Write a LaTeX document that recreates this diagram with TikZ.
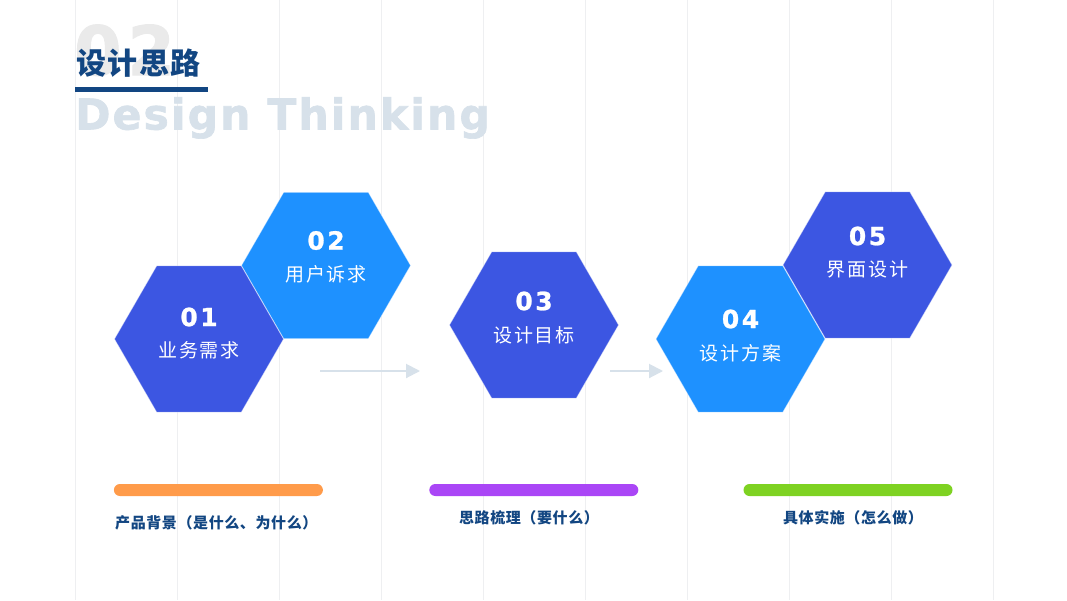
\documentclass[tikz,border=0pt]{standalone}
\usepackage{fontspec}
\setmainfont{Liberation Sans}
\newfontfamily\cjk{Noto Sans CJK SC}
\newfontfamily\cjktitle[LetterSpace=5]{Noto Sans CJK SC}
\newfontfamily\cjkwide[LetterSpace=10]{Noto Sans CJK SC}
\newfontfamily\cjkcap[LetterSpace=4]{Noto Sans CJK SC}
\newfontfamily\numfont[LetterSpace=10, FakeBold=1, UprightFont={DejaVu Sans Bold}]{DejaVu Sans}
\newfontfamily\engfont[LetterSpace=5, FakeBold=1.5, UprightFont={DejaVu Sans Bold}]{DejaVu Sans}
\newfontfamily\ghostfont[LetterSpace=9, FakeBold=1.5, UprightFont={DejaVu Sans Bold}]{DejaVu Sans}
\usetikzlibrary{shapes.geometric,arrows.meta,positioning}

\definecolor{navy}{RGB}{18,70,130}
\definecolor{hexdeep}{RGB}{60,86,226}
\definecolor{hexsky}{RGB}{30,145,255}
\definecolor{gridgray}{RGB}{238,239,241}
\definecolor{ghostgray}{RGB}{234,234,234}
\definecolor{mistblue}{RGB}{215,225,234}
\definecolor{barorange}{RGB}{255,155,74}
\definecolor{barpurple}{RGB}{170,70,246}
\definecolor{bargreen}{RGB}{126,210,34}

\tikzset{
  hexcell/.style={regular polygon, regular polygon sides=6, minimum size=169pt,
    inner sep=0pt, outer sep=0pt, draw=white, draw opacity=0.45, line width=0.7pt},
  hexdark/.style={hexcell, fill=hexdeep},
  hexlight/.style={hexcell, fill=hexsky},
  numtxt/.style={inner sep=0pt, text=white, font=\numfont\fontsize{25}{28}\selectfont},
  hextxt/.style={inner sep=0pt, text=white, font=\cjkwide\fontsize{19}{22}\selectfont},
  flowarrow/.style={mistblue, line width=2pt, -{Triangle[length=14pt,width=14pt]}},
  bar/.style={rounded corners=6pt, minimum width=209pt, minimum height=12pt, inner sep=0pt},
  caption/.style={inner sep=0pt, text=navy, font=\cjkcap\bfseries\fontsize{15}{18}\selectfont}
}

\begin{document}
\begin{tikzpicture}[x=1pt, y=-1pt]
    \useasboundingbox (0,0) rectangle (1067,600);
    \fill[white] (0,0) rectangle (1067,600);
    % Decoration
    \foreach \gx in {75,177,...,993}
        \draw[gridgray, line width=1pt] (\gx,0) -- (\gx,600);
    % Heading
    \node[anchor=base west, inner sep=0pt, text=ghostgray, font=\ghostfont\fontsize{68}{76}\selectfont] (ghost) at (74,75) {02};
    \node[anchor=west, inner sep=0pt, text=navy, font=\cjktitle\bfseries\fontsize{30}{34}\selectfont] (title) at (76,63) {设计思路};
    \draw[navy, line width=4.5pt] (75,89.3) -- (208,89.3);
    \node[anchor=base west, inner sep=0pt, text=mistblue, font=\engfont\fontsize{42.5}{48}\selectfont] (subtitle) at (75,129.5) {Design Thinking};
    % Hexagons
    \node[hexlight] (h2) at (326,265.5) {};
    \node[hexdark] (h1) at (199,339) {};
    \node[hexdark] (h3) at (534,325) {};
    \node[hexdark] (h5) at (867.5,265) {};
    \node[hexlight] (h4) at (740.5,339) {};
    % Hexagon texts
    \node[numtxt] (n1) at ([yshift=22pt]h1.center) {01};
    \node[hextxt] (t1) at ([yshift=-11pt]h1.center) {业务需求};
    \node[numtxt] (n2) at ([yshift=25pt]h2.center) {02};
    \node[hextxt] (t2) at ([yshift=-8.5pt]h2.center) {用户诉求};
    \node[numtxt] (n3) at ([yshift=24pt]h3.center) {03};
    \node[hextxt] (t3) at ([yshift=-10pt]h3.center) {设计目标};
    \node[numtxt] (n4) at ([yshift=20pt]h4.center) {04};
    \node[hextxt] (t4) at ([yshift=-14pt]h4.center) {设计方案};
    \node[numtxt] (n5) at ([yshift=29pt]h5.center) {05};
    \node[hextxt] (t5) at ([yshift=-4.5pt]h5.center) {界面设计};
    % Arrows
    \coordinate (a1s) at (320,371);
    \coordinate (a1e) at (420,371);
    \coordinate (a2s) at (610,371);
    \coordinate (a2e) at (663,371);
    \draw[flowarrow] (a1s) -- (a1e);
    \draw[flowarrow] (a2s) -- (a2e);
    % Bars
    \node[bar, fill=barorange] (b1) at (218.4,490) {};
    \node[bar, fill=barpurple] (b2) at (533.8,490) {};
    \node[bar, fill=bargreen] (b3) at (848,490) {};
    % Captions
    \node[caption, anchor=west] (c1) at (115,523) {产品背景（是什么、为什么）};
    \node[caption] (c2) at (529,518) {思路梳理（要什么）};
    \node[caption] (c3) at (853,518) {具体实施（怎么做）};
\end{tikzpicture}
\end{document}
